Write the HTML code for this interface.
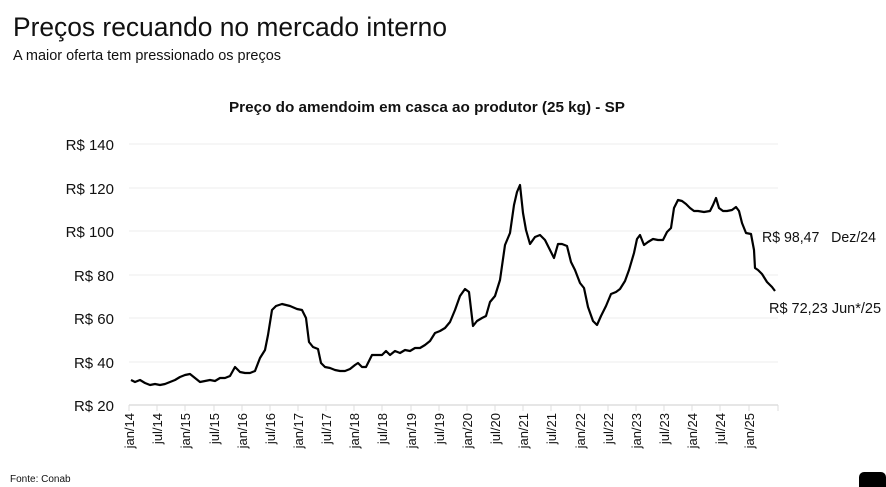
<!DOCTYPE html>
<html><head><meta charset="utf-8"><style>
body{margin:0;background:#fff;}
svg{display:block;font-family:"Liberation Sans","DejaVu Sans",sans-serif;}
</style></head><body>
<svg width="886" height="487" viewBox="0 0 886 487">
<text x="13" y="36" font-size="27" fill="#111" textLength="434" lengthAdjust="spacingAndGlyphs">Preços recuando no mercado interno</text>
<text x="13" y="60" font-size="15" fill="#111" textLength="268" lengthAdjust="spacingAndGlyphs">A maior oferta tem pressionado os preços</text>
<text x="229" y="112" font-size="15" font-weight="bold" fill="#111" textLength="396" lengthAdjust="spacingAndGlyphs">Preço do amendoim em casca ao produtor (25 kg) - SP</text>
<g stroke="#ececec" stroke-width="1">
<line x1="129" x2="778" y1="144" y2="144"/><line x1="129" x2="778" y1="188" y2="188"/>
<line x1="129" x2="778" y1="231" y2="231"/><line x1="129" x2="778" y1="275" y2="275"/>
<line x1="129" x2="778" y1="318" y2="318"/><line x1="129" x2="778" y1="362" y2="362"/>
</g>
<line x1="129" x2="778" y1="405" y2="405" stroke="#ddd" stroke-width="1.5"/>
<g font-size="15" fill="#111" text-anchor="end">
<text x="114" y="150">R$ 140</text><text x="114" y="194">R$ 120</text><text x="114" y="237">R$ 100</text>
<text x="114" y="281">R$ 80</text><text x="114" y="324">R$ 60</text><text x="114" y="368">R$ 40</text><text x="114" y="411">R$ 20</text>
</g>
<g stroke="#ddd" stroke-width="1">
<path d="M129 405v6M157 405v6M185 405v6M214 405v6M242 405v6M270 405v6M298 405v6M326 405v6M354 405v6M382 405v6M411 405v6M439 405v6M467 405v6M495 405v6M523 405v6M551 405v6M580 405v6M608 405v6M636 405v6M664 405v6M692 405v6M720 405v6M749 405v6M778 405v6"/>
</g>
<g font-size="13" fill="#111" text-anchor="end">
<text transform="translate(134,413) rotate(-90)">jan/14</text>
<text transform="translate(162,413) rotate(-90)">jul/14</text>
<text transform="translate(190,413) rotate(-90)">jan/15</text>
<text transform="translate(219,413) rotate(-90)">jul/15</text>
<text transform="translate(247,413) rotate(-90)">jan/16</text>
<text transform="translate(275,413) rotate(-90)">jul/16</text>
<text transform="translate(303,413) rotate(-90)">jan/17</text>
<text transform="translate(331,413) rotate(-90)">jul/17</text>
<text transform="translate(359,413) rotate(-90)">jan/18</text>
<text transform="translate(387,413) rotate(-90)">jul/18</text>
<text transform="translate(416,413) rotate(-90)">jan/19</text>
<text transform="translate(444,413) rotate(-90)">jul/19</text>
<text transform="translate(472,413) rotate(-90)">jan/20</text>
<text transform="translate(500,413) rotate(-90)">jul/20</text>
<text transform="translate(528,413) rotate(-90)">jan/21</text>
<text transform="translate(556,413) rotate(-90)">jul/21</text>
<text transform="translate(585,413) rotate(-90)">jan/22</text>
<text transform="translate(613,413) rotate(-90)">jul/22</text>
<text transform="translate(641,413) rotate(-90)">jan/23</text>
<text transform="translate(669,413) rotate(-90)">jul/23</text>
<text transform="translate(697,413) rotate(-90)">jan/24</text>
<text transform="translate(725,413) rotate(-90)">jul/24</text>
<text transform="translate(754,413) rotate(-90)">jan/25</text>
</g>
<polyline fill="none" stroke="#000" stroke-width="2.2" stroke-linejoin="round" points="131,380 135,382 140,380 145,383 150,385 155,384 160,385 165,384 170,382 175,380 180,377 185,375 190,374 195,378 200,382 205,381 210,380 215,381 220,378 225,378 230,376 235,367 240,372 245,373 250,373 255,371 260,358 265,350 268,335 272,310 276,306 282,304 290,306 297,309 302,310 306,318 309,342 313,347 318,349 321,363 325,367 330,368 335,370 340,371 345,371 350,369 355,365 358,363 362,367 366,367 372,355 378,355 382,355 386,351 390,355 395,351 400,353 405,350 410,351 415,348 420,348 425,345 430,341 435,333 440,331 445,328 450,322 455,310 460,296 465,289 469,292 473,326 477,321 482,318 486,316 490,302 495,296 500,280 505,245 510,233 514,205 517,192 520,185 523,213 526,230 530,244 535,237 540,235 545,240 550,250 554,258 558,244 562,244 567,246 571,262 575,270 580,283 584,288 588,307 593,321 597,325 601,316 606,306 611,294 616,292 620,289 625,281 629,270 634,253 637,239 640,235 644,245 648,242 653,239 658,240 663,240 667,232 671,228 674,208 678,200 682,201 686,204 690,208 694,211 698,211 704,212 710,211 713,205 716,198 719,208 723,211 727,211 732,210 736,207 739,211 742,223 746,233 751,234 754,250 755,268 758,270 762,274 767,282 772,287 775,291"/>
<text x="762" y="242" font-size="15" fill="#111" xml:space="preserve" textLength="114" lengthAdjust="spacingAndGlyphs">R$ 98,47   Dez/24</text>
<text x="769" y="313" font-size="15" fill="#111" textLength="112" lengthAdjust="spacingAndGlyphs">R$ 72,23 Jun*/25</text>
<text x="10" y="482" font-size="10" fill="#111">Fonte: Conab</text>
<rect x="859" y="472" width="27" height="20" rx="5" fill="#000"/>
</svg>
</body></html>
